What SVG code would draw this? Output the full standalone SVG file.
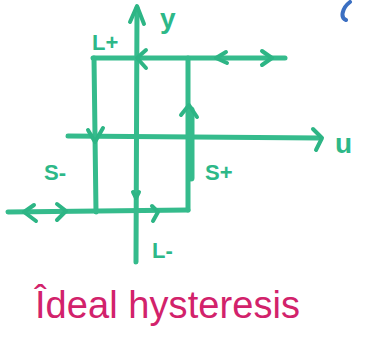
<svg xmlns="http://www.w3.org/2000/svg" width="365" height="339" viewBox="0 0 365 339">
<style>
.ln{stroke:#35bb8c;stroke-width:5;fill:none;stroke-linecap:round;stroke-linejoin:round}
.hd{stroke:#2db585;stroke-width:4;fill:none;stroke-linecap:round;stroke-linejoin:round}
.lb{font-family:"Liberation Sans",Arial,sans-serif;fill:#2db888;font-size:22px;font-weight:bold}
.big{font-size:28px}
.tt{font-family:"Liberation Sans",Arial,sans-serif;fill:#d2226b;font-size:38px}
</style>
<rect width="365" height="339" fill="#ffffff"/>
<g id="connectors">
<path class="ln" d="M136 262 L137 8"/>
<path class="hd" d="M130 22 L137 6 L144 24"/>
<path class="ln" d="M68 136 L320 138"/>
<path class="hd" d="M313 129 L322 138 L316 150"/>
<path class="ln" d="M93 58 L285 58"/>
<path class="ln" d="M94 58 L96 212"/>
<path class="ln" d="M188 58 L188 210"/>
<path class="ln" style="stroke-width:7" d="M191 110 L191 178"/>
<path class="ln" d="M8 212 L188 210"/>
<path class="hd" d="M146 50 L137 58 L146 68"/>
<path class="hd" d="M226 52 L216 58 L227 63"/>
<path class="hd" d="M262 51 L272 58 L262 65"/>
<path class="hd" d="M88 130 L95 142 L103 128"/>
<path class="hd" d="M181 115 L189 105 L197 117"/>
<path class="hd" d="M34 205 L24 212 L36 221"/>
<path class="hd" d="M57 204 L66 211 L57 220"/>
<path class="hd" d="M152 206 L158 212 L153 221"/>
<path class="hd" d="M133 192 L136 198 L139 192"/>
</g>
<g id="label-y"><text class="lb big" x="160" y="28">y</text></g>
<g id="label-u"><text class="lb big" x="335" y="153">u</text></g>
<g id="label-Lplus"><text class="lb" x="92" y="50">L+</text></g>
<g id="label-Sminus"><text class="lb" x="44" y="180">S-</text></g>
<g id="label-Splus"><text class="lb" x="205" y="180">S+</text></g>
<g id="label-Lminus"><text class="lb" x="152" y="258">L-</text></g>
<g id="title"><text class="tt" x="35" y="318" textLength="265">Îdeal hysteresis</text></g>
<path d="M350 2 C342 8 340 18 346 20" stroke="#3b6fc2" stroke-width="4" fill="none" stroke-linecap="round"/>
</svg>
